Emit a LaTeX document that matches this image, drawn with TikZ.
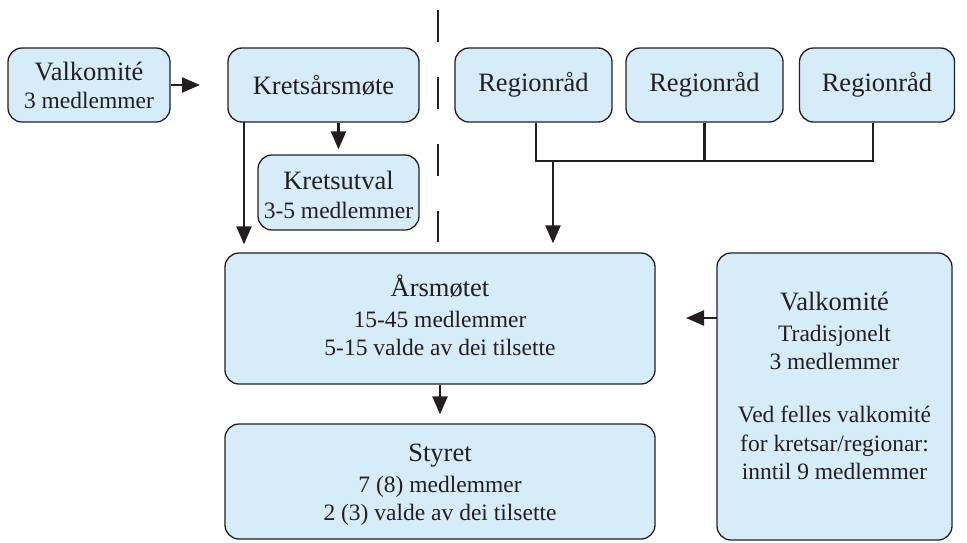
\documentclass[tikz,border=0pt]{standalone}
\usepackage{fontspec}
\setmainfont{Liberation Serif}
\usetikzlibrary{arrows.meta,calc}
\definecolor{boxfill}{RGB}{214,236,249}
\definecolor{boxline}{RGB}{35,31,32}
\tikzset{
  box/.style={draw=boxline, line width=1.3pt, fill=boxfill, rounded corners=14pt,
    inner sep=0pt, align=center, font=\fontsize{23.5}{28}\selectfont, text=boxline},
  txt/.style={inner sep=0pt, align=center, font=\fontsize{23.5}{28}\selectfont, text=boxline},
  arr/.style={draw=boxline, line width=2.2pt, -{Triangle[length=18pt,width=15pt]}},
  conn/.style={draw=boxline, line width=2.2pt},
}
\newcommand{\ttlf}{\fontsize{26.5}{28}\selectfont}
\begin{document}
\begin{tikzpicture}[x=1pt,y=-1pt]
\useasboundingbox (0,0) rectangle (967,542);
% boxes
\node[box, minimum width=162pt, minimum height=74pt] (vk1) at (89,85)
  {{\ttlf Valkomité}\\3 medlemmer};
\node[box, minimum width=191pt, minimum height=74pt] (kam) at (323.5,85)
  {{\ttlf Kretsårsmøte}};
\node[box, minimum width=161pt, minimum height=75pt] (ku) at (338.5,192.5) {};
\node[txt] (kut) at (338.5,195) {{\ttlf Kretsutval}\\[1pt]3-5 medlemmer};
\node[box, minimum width=157pt, minimum height=74pt] (r1) at (533.5,85) {{\ttlf Regionråd}};
\node[box, minimum width=157pt, minimum height=74pt] (r2) at (704.5,85) {{\ttlf Regionråd}};
\node[box, minimum width=155pt, minimum height=74pt] (r3) at (877,85) {{\ttlf Regionråd}};
\node[box, minimum width=430pt, minimum height=131pt] (ars) at (440,318.5) {};
\node[txt] (arst) at (440,315.5)
  {{\ttlf Årsmøtet}\\[3pt]15-45 medlemmer\\5-15 valde av dei tilsette};
\node[box, minimum width=430pt, minimum height=115pt] (sty) at (440,481.5) {};
\node[txt] (styt) at (440,485)
  {{\ttlf Styret}\\[3pt]7 (8) medlemmer\\2 (3) valde av dei tilsette};
\node[box, minimum width=235pt, minimum height=287pt] (vk2) at (834.5,396.5) {};
\node[txt, font=\fontsize{23.5}{28.5}\selectfont] (vk2t) at (834.5,386)
  {{\ttlf Valkomité}\\[2pt]Tradisjonelt\\3 medlemmer\\[24.5pt]Ved felles valkomité\\for kretsar/regionar:\\inntil 9 medlemmer};
% dashed divider
\coordinate (d1) at (438,10);
\coordinate (d2) at (438,242);
\draw[conn, dash pattern=on 32pt off 35pt] (d1) -- (d2);
% arrows
\coordinate (a1) at (200,85);
\draw[arr] (vk1.east) -- (a1);
\draw[arr, shorten >=5pt] (kam.south -| ku.north) -- (ku.north);
\coordinate (k1) at (244,122);
\draw[arr, shorten >=8pt] (k1) -- (k1 |- ars.north);
\coordinate (j1) at (536,161);
\coordinate (j3) at (873,161);
\draw[conn] (r1.south -| j1) -- (j1) -- (j3) -- (r3.south -| j3);
\draw[conn] (r2.south) -- (r2.south |- j1);
\coordinate (j2) at (553,161);
\draw[arr, shorten >=9pt] (j2) -- (j2 |- ars.north);
\draw[arr, shorten >=9pt] (ars.south) -- (sty.north);
\coordinate (v1) at (717,318);
\coordinate (a2) at (686,318);
\draw[arr] (v1) -- (a2);
\end{tikzpicture}
\end{document}
